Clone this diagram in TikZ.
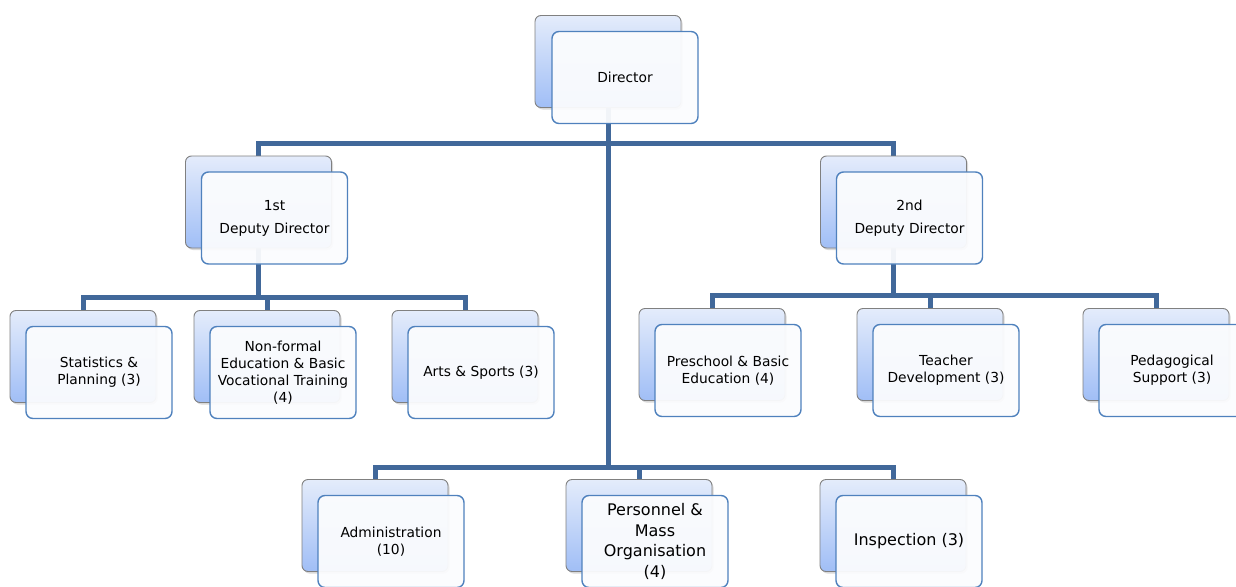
\documentclass[tikz,border=0pt]{standalone}
\usepackage{fontspec}
\setmainfont{DejaVu Sans}
\usetikzlibrary{shadows,backgrounds,calc}
\definecolor{connblue}{RGB}{65,104,154}
\definecolor{frameblue}{RGB}{79,129,189}
\definecolor{shadetop}{RGB}{228,236,251}
\definecolor{shadebot}{RGB}{160,190,246}
\tikzset{
  backbox/.style={draw=black!50,line width=0.9pt,rounded corners=6pt,
    top color=shadetop,bottom color=shadebot,minimum width=146pt,
    minimum height=92pt,inner sep=0pt,outer sep=0pt,
    drop shadow={opacity=0.3,shadow xshift=1.5pt,shadow yshift=-2pt}},
  frontbox/.style={draw=frameblue,line width=1.4pt,rounded corners=7pt,
    fill=white!98!frameblue,fill opacity=0.95,text opacity=1,
    minimum width=146pt,minimum height=92pt,inner sep=2pt,outer sep=0pt,
    align=center,font=\fontsize{13.8}{17}\selectfont},
  bigtxt/.style={font=\fontsize{16}{20.5}\selectfont},
  conn/.style={connblue,line width=5pt},
}

\begin{document}
\begin{tikzpicture}[x=1pt,y=-1pt]
  \useasboundingbox (0,0) rectangle (1236,586);
  % top
  \node[backbox] (dirb) at (608,61.5) {};
  \node[frontbox] (dir) at ($(dirb)+(17,16)$) {Director};
  % deputies
  \node[backbox] (d1b) at (258.5,202) {};
  \node[frontbox] (d1) at ($(d1b)+(16,16)$) {1st\\[6pt]Deputy Director};
  \node[backbox] (d2b) at (893.5,202) {};
  \node[frontbox] (d2) at ($(d2b)+(16,16)$) {2nd\\[6pt]Deputy Director};
  % under 1st deputy
  \node[backbox] (statb) at (83,356.5) {};
  \node[frontbox] (stat) at ($(statb)+(16,16)$) {Statistics \&\\Planning (3)};
  \node[backbox] (nfb) at (267,356.5) {};
  \node[frontbox] (nf) at ($(nfb)+(16,16)$)
    {Non-formal\\Education \& Basic\\Vocational Training\\(4)};
  \node[backbox] (artsb) at (465,356.5) {};
  \node[frontbox] (arts) at ($(artsb)+(16,16)$) {Arts \& Sports (3)};
  % under 2nd deputy
  \node[backbox] (preb) at (712,354.5) {};
  \node[frontbox] (pre) at ($(preb)+(16,16)$) {Preschool \& Basic\\Education (4)};
  \node[backbox] (teachb) at (930,354.5) {};
  \node[frontbox] (teach) at ($(teachb)+(16,16)$) {Teacher\\Development (3)};
  \node[backbox] (pedb) at (1156,354.5) {};
  \node[frontbox] (ped) at ($(pedb)+(16,16)$) {Pedagogical\\Support (3)};
  % under director
  \node[backbox] (admb) at (375,525.5) {};
  \node[frontbox] (adm) at ($(admb)+(16,16)$) {Administration\\(10)};
  \node[backbox] (persb) at (639,525.5) {};
  \node[frontbox,bigtxt] (pers) at ($(persb)+(16,16)$)
    {Personnel \&\\Mass\\Organisation\\(4)};
  \node[backbox] (inspb) at (893,525.5) {};
  \node[frontbox,bigtxt] (insp) at ($(inspb)+(16,16)$) {Inspection (3)};
  % lines
  \begin{scope}[on background layer]
    \coordinate (j0) at (dirb.south |- 0,143);
    \coordinate (j3) at (dirb.south |- 0,467);
    \coordinate (j1) at (d1b.south |- 0,297);
    \coordinate (j2) at (d2b.south |- 0,295);
    \draw[conn] (dirb.south) -- (j3);
    \draw[conn] (d1b.north) |- (j0) -| (d2b.north);
    \draw[conn] (d1b.south) -- (j1);
    \draw[conn] (statb.north) |- (j1) -| (artsb.north);
    \draw[conn] (j1) -| (nfb.north);
    \draw[conn] (d2b.south) -- (j2);
    \draw[conn] (preb.north) |- (j2) -| (pedb.north);
    \draw[conn] (j2) -| (teachb.north);
    \draw[conn] (admb.north) |- (j3) -| (inspb.north);
    \draw[conn] (j3) -| (persb.north);
  \end{scope}
\end{tikzpicture}
\end{document}
